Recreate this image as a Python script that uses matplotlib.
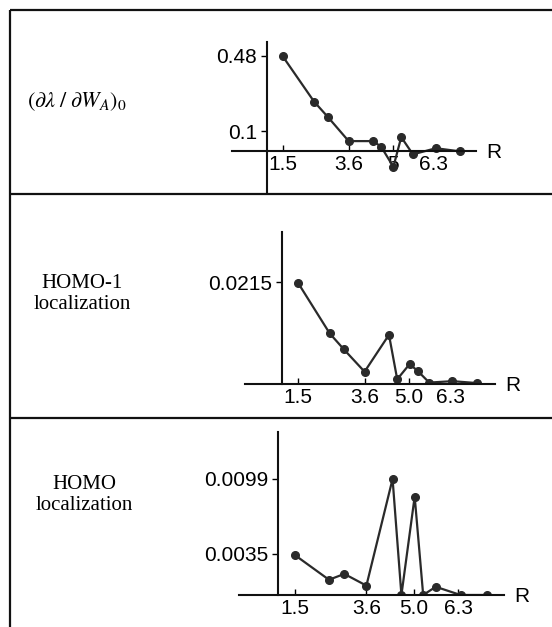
import matplotlib
matplotlib.use('Agg')
import matplotlib.pyplot as plt

plt.rcParams['font.family'] = ['Liberation Sans', 'DejaVu Sans']
plt.rcParams['mathtext.fontset'] = 'stix'

# Datos
R = [1.5, 2.5, 2.95, 3.6, 4.37, 4.63, 5.02, 5.27, 5.64, 6.37, 7.14]
deriv = [0.48, 0.25, 0.17, 0.05, 0.05, 0.022, -0.08, 0.07, -0.017, 0.014, -0.002]
homo1 = [0.0214, 0.0107, 0.0073, 0.0026, 0.0104, 0.001, 0.0042, 0.0028, 0.0003, 0.0006, 0.0002]
homo = [0.0034, 0.0013, 0.0018, 0.0008, 0.0099, 0.0, 0.0084, 0.0, 0.0007, 0.0, 0.0]

xticks = [1.5, 3.6, 5.0, 6.3]
xlabels_1 = ['1.5', '3.6', '5', '6.3']
xlabels_23 = ['1.5', '3.6', '5.0', '6.3']
yticks_1 = [0.1, 0.48]
yticks_2 = [0.0215]
yticks_3 = [0.0035, 0.0099]
row_labels = [r'$(\partial\lambda\;/\;\partial W_A)_0$', 'HOMO-1\nlocalization', 'HOMO\nlocalization']

W, H = 552, 627
fig = plt.figure(figsize=(W / 100, H / 100), dpi=100)

# Marco de la tabla (en pixeles)
bg = fig.add_axes([0, 0, 1, 1])
bg.set_xlim(0, W)
bg.set_ylim(H, 0)
bg.axis('off')
frame = dict(color='#111111', lw=1.6, solid_capstyle='butt')
bg.plot([10, W], [10, 10], **frame)
bg.plot([10, 10], [10, H], **frame)
bg.plot([10, W], [194, 194], **frame)
bg.plot([10, W], [418, 418], **frame)

# Etiquetas de las filas
bg.text(77, 102, row_labels[0], fontsize=16, ha='center', va='center')
bg.text(82, 294, row_labels[1], fontsize=15, ha='center', va='center',
        family='Liberation Serif', linespacing=1.1)
bg.text(84, 495, row_labels[2], fontsize=15, ha='center', va='center',
        family='Liberation Serif', linespacing=1.1)


def make_axes(xpx, ypx, sx, sy, xlim, ylim):
    # xpx: pixel de R=1.5, ypx: pixel de y=0
    left = xpx + (xlim[0] - 1.5) * sx
    right = xpx + (xlim[1] - 1.5) * sx
    top = ypx - ylim[1] * sy
    bottom = ypx - ylim[0] * sy
    ax = fig.add_axes([left / W, 1 - bottom / H, (right - left) / W, (bottom - top) / H])
    ax.set_xlim(*xlim)
    ax.set_ylim(*ylim)
    ax.patch.set_alpha(0)
    return ax


def style(ax, yticks, ylabels, xlabels, ybounds, xbounds):
    for s in ['top', 'right']:
        ax.spines[s].set_visible(False)
    ax.spines['left'].set_position(('data', 1.0))
    ax.spines['bottom'].set_position(('data', 0))
    ax.spines['left'].set_bounds(*ybounds)
    ax.spines['bottom'].set_bounds(*xbounds)
    for s in ['left', 'bottom']:
        ax.spines[s].set_linewidth(1.5)
        ax.spines[s].set_color('#111111')
    ax.set_xticks(xticks)
    ax.set_xticklabels(xlabels)
    ax.set_yticks(yticks)
    ax.set_yticklabels(ylabels)
    ax.tick_params(axis='x', direction='in', length=4, width=1, pad=3, labelsize=15)
    ax.tick_params(axis='y', direction='out', length=4, width=1, pad=3, labelsize=15)
    ax.annotate('R', xy=(xbounds[1], 0), xytext=(7, -1), textcoords='offset points',
                ha='left', va='center', fontsize=15, annotation_clip=False)


line = dict(color='#2a2a2a', lw=1.6, marker='o', markersize=5.5)

ax1 = make_axes(282.5, 151, 31.5, 198, (-0.3, 8.2), (-0.22, 0.56))
ax1.plot(R, deriv, **line)
style(ax1, yticks_1, ['0.1', '0.48'], xlabels_1, (-0.212, 0.55), (-0.1, 7.65))

ax2 = make_axes(298, 384, 31.7, 4730, (-0.3, 8.2), (0, 0.0325))
ax2.plot(R, homo1, **line)
style(ax2, yticks_2, ['0.0215'], xlabels_23, (0, 0.0322), (-0.16, 7.72))

ax3 = make_axes(295, 595, 34.0, 11720, (-0.3, 8.2), (0, 0.0140))
ax3.plot(R, homo, **line)
style(ax3, yticks_3, ['0.0035', '0.0099'], xlabels_23, (0, 0.01395), (-0.14, 7.65))

fig.savefig('out.png', dpi=100)
